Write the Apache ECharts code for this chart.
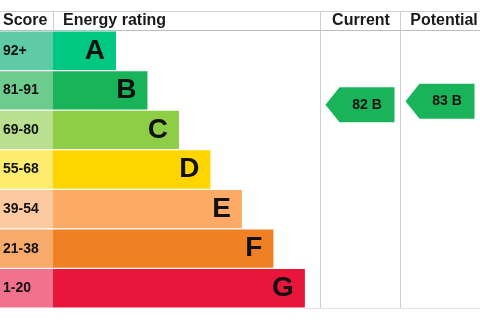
<!DOCTYPE html>
<html>
<head>
<meta charset="utf-8">
<script src="https://cdn.jsdelivr.net/npm/echarts@6/dist/echarts.min.js"></script>
<style>
  html, body { margin: 0; padding: 0; background: #fff; }
  #epc { width: 480px; height: 320px; }
</style>
</head>
<body>
<div id="epc"></div>
<script>
var dom = document.getElementById('epc');
var myChart = echarts.init(dom);

// bands, top to bottom
var bands = ['A', 'B', 'C', 'D', 'E', 'F', 'G'];
var scores = ['92+', '81-91', '69-80', '55-68', '39-54', '21-38', '1-20'];
var bandMin = [92, 81, 69, 55, 39, 21, 1];
var bandMax = [100, 91, 80, 68, 54, 38, 20];
var barLength = [2, 3, 4, 5, 6, 7, 8];
var barColors = ['#00c781', '#19b459', '#8dce46', '#ffd500', '#fcaa65', '#ef8023', '#e9153b'];
var scoreColors = ['#5fcba6', '#6ccb8d', '#b8e08e', '#fdec6e', '#fcc9a0', '#f8aa6a', '#f2718c'];

var columns = ['Current', 'Potential'];
var ratings = [82, 83];

function bandOf(v) {
    for (var i = 0; i < bands.length; i++) {
        if (v >= bandMin[i]) return i;
    }
    return bands.length - 1;
}

var ratingBand = ratings.map(bandOf);
var arrowData = ratings.map(function (v, i) {
    var b = ratingBand[i];
    // position inside the band: top = band max, bottom = band min
    var frac = (bandMax[b] - v + 0.5) / (bandMax[b] - bandMin[b] + 1);
    return [i, b, frac];
});

var gridTop = 31, gridBottom = 12;
var lineColor = '#cfcfcf';
var fontFam = 'Arial, "Liberation Sans", sans-serif';
var headFont = 'bold 16px ' + fontFam;

var option = {
    animation: false,
    grid: [
        { left: 0, width: 53, top: gridTop, bottom: gridBottom },
        { left: 53, width: 267, top: gridTop, bottom: gridBottom },
        { left: 320, width: 160, top: gridTop, bottom: gridBottom }
    ],
    xAxis: [
        { gridIndex: 0, type: 'value', min: 0, max: 1, show: false },
        { gridIndex: 1, type: 'value', min: 0, max: 8.48, show: false },
        { gridIndex: 2, type: 'category', data: columns, show: false }
    ],
    yAxis: [0, 1, 2].map(function (g) {
        return { gridIndex: g, type: 'category', data: bands, inverse: true, show: false };
    }),
    graphic: [
        { type: 'line', shape: { x1: 0, y1: 11.5, x2: 480, y2: 11.5 }, style: { stroke: lineColor, lineWidth: 1 } },
        { type: 'line', shape: { x1: 0, y1: 30.5, x2: 480, y2: 30.5 }, style: { stroke: '#bdbdbd', lineWidth: 1 } },
        { type: 'line', shape: { x1: 53.5, y1: 11, x2: 53.5, y2: 31 }, style: { stroke: lineColor, lineWidth: 1 } },
        { type: 'line', shape: { x1: 320.5, y1: 11, x2: 320.5, y2: 308 }, style: { stroke: lineColor, lineWidth: 1 } },
        { type: 'line', shape: { x1: 400.5, y1: 11, x2: 400.5, y2: 308 }, style: { stroke: lineColor, lineWidth: 1 } },
        { type: 'line', shape: { x1: 305, y1: 308.5, x2: 480, y2: 308.5 }, style: { stroke: '#e4e4e4', lineWidth: 1 } },
        { type: 'text', x: 3, y: 21, style: { text: 'Score', font: headFont, fill: '#1a1a1a', verticalAlign: 'middle' } },
        { type: 'text', x: 63, y: 21, style: { text: 'Energy rating', font: headFont, fill: '#1a1a1a', verticalAlign: 'middle' } },
        { type: 'text', x: 361, y: 21, style: { text: 'Current', font: headFont, fill: '#1a1a1a', align: 'center', verticalAlign: 'middle' } },
        { type: 'text', x: 444, y: 21, style: { text: 'Potential', font: headFont, fill: '#1a1a1a', align: 'center', verticalAlign: 'middle' } }
    ],
    series: [
        {
            type: 'bar',
            xAxisIndex: 0, yAxisIndex: 0,
            barCategoryGap: '3%',
            data: bands.map(function (b, i) {
                return { value: 1, itemStyle: { color: scoreColors[i] } };
            }),
            label: {
                show: true,
                position: 'insideLeft',
                distance: 3,
                formatter: function (p) { return scores[p.dataIndex]; },
                color: '#111',
                fontWeight: 'bold',
                fontSize: 14,
                fontFamily: fontFam
            }
        },
        {
            type: 'bar',
            xAxisIndex: 1, yAxisIndex: 1,
            barCategoryGap: '3%',
            data: barLength.map(function (v, i) {
                return { value: v, itemStyle: { color: barColors[i] } };
            }),
            label: {
                show: true,
                position: 'insideRight',
                distance: 11,
                formatter: '{b}',
                color: '#111',
                fontWeight: 'bold',
                fontSize: 28,
                fontFamily: fontFam
            }
        },
        {
            type: 'custom',
            xAxisIndex: 2, yAxisIndex: 2,
            data: arrowData,
            renderItem: function (params, api) {
                var c = api.coord([api.value(0), api.value(1)]);
                var bandH = api.size([0, 1])[1];
                var cy = c[1] + (api.value(2) - 0.5) * bandH;
                var w = 69, h = 35, tip = 14;
                var x0 = c[0] - w / 2, x1 = c[0] + w / 2;
                var i = params.dataIndex;
                var b = ratingBand[i];
                return {
                    type: 'group',
                    children: [
                        {
                            type: 'polygon',
                            shape: { points: [[x0, cy], [x0 + tip, cy - h / 2], [x1, cy - h / 2], [x1, cy + h / 2], [x0 + tip, cy + h / 2]] },
                            style: { fill: barColors[b] }
                        },
                        {
                            type: 'text',
                            x: (x0 + tip + x1) / 2,
                            y: cy,
                            style: {
                                text: ratings[i] + ' ' + bands[b],
                                align: 'center',
                                verticalAlign: 'middle',
                                fill: '#111',
                                font: 'bold 14px ' + fontFam
                            }
                        }
                    ]
                };
            }
        }
    ]
};

myChart.setOption(option);
</script>
</body>
</html>
